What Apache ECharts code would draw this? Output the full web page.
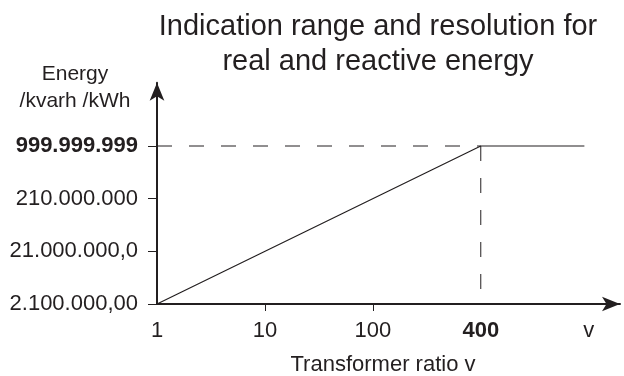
<!DOCTYPE html>
<html>
<head>
<meta charset="utf-8">
<script src="https://cdn.jsdelivr.net/npm/echarts@6/dist/echarts.min.js"></script>
<style>
  html, body { margin: 0; padding: 0; background: #fff; }
  #chart { width: 624px; height: 376px; }
</style>
</head>
<body>
<div id="chart"></div>
<script>
// axis categories, drawn at equal steps (index 0..4)
const xLabels = ['1', '10', '100', '400', 'v'];
const yLabels = ['2.100.000,00', '21.000.000,0', '210.000.000', '999.999.999'];
const boldX = '400';
const boldY = '999.999.999';

// indication line, in axis index units
const rampX = [0, 3, 3.96];
const rampY = [0, 3, 3];

// dashed guides to the 400 / 999.999.999 corner
const guideH = [[0, 3], [3, 3]];
const guideV = [[3, 3], [3, 0]];

const ink = '#231f20';
const font = '"Liberation Sans", Arial, Helvetica, sans-serif';

const chart = echarts.init(document.getElementById('chart'));

const option = {
  animation: false,
  backgroundColor: '#fff',
  title: {
    text: 'Indication range and resolution for\nreal and reactive energy',
    left: 373,
    top: 4,
    textAlign: 'center',
    textStyle: {
      fontFamily: font,
      fontSize: 29,
      fontWeight: 'normal',
      color: ink,
      lineHeight: 35
    }
  },
  grid: {
    left: 157,
    right: 4,
    top: 82.8,
    bottom: 72,
    containLabel: false,
    outerBoundsMode: 'none'
  },
  xAxis: {
    type: 'value',
    min: 0,
    max: 4.29,
    name: 'Transformer ratio v',
    nameLocation: 'middle',
    nameGap: 50,
    nameTextStyle: { fontFamily: font, fontSize: 22, color: ink, padding: [0, 11, 0, 0] },
    splitLine: { show: false },
    axisLine: {
      lineStyle: { color: ink, width: 2 },
      symbol: ['none', 'arrow'],
      symbolSize: [11, 18]
    },
    axisTick: {
      customValues: [1, 2],
      length: 7,
      lineStyle: { color: ink, width: 1 }
    },
    axisLabel: {
      customValues: [0, 1, 2, 3, 4],
      margin: 16,
      fontFamily: font,
      fontSize: 22,
      color: ink,
      formatter: function (v) {
        const s = xLabels[Math.round(v)];
        return s === boldX ? '{b|' + s + '}' : s;
      },
      rich: {
        b: { fontFamily: font, fontSize: 22, fontWeight: 'bold', color: ink }
      }
    }
  },
  yAxis: {
    type: 'value',
    min: 0,
    max: 4.2,
    name: 'Energy\n/kvarh /kWh',
    nameLocation: 'end',
    nameGap: -5,
    nameTextStyle: {
      fontFamily: font,
      fontSize: 21,
      color: ink,
      lineHeight: 27,
      align: 'center',
      verticalAlign: 'middle',
      padding: [0, 164, 0, 0]
    },
    splitLine: { show: false },
    axisLine: {
      lineStyle: { color: ink, width: 2 },
      symbol: ['none', 'arrow'],
      symbolSize: [11, 18]
    },
    axisTick: {
      customValues: [0, 1, 2, 3],
      length: 9,
      lineStyle: { color: ink, width: 1 }
    },
    axisLabel: {
      customValues: [0, 1, 2, 3],
      margin: 19,
      fontFamily: font,
      fontSize: 22,
      color: ink,
      formatter: function (v) {
        const s = yLabels[Math.round(v)];
        return s === boldY ? '{b|' + s + '}' : s;
      },
      rich: {
        b: { fontFamily: font, fontSize: 22, fontWeight: 'bold', color: ink }
      }
    }
  },
  series: [
    {
      type: 'line',
      data: rampX.map((x, i) => [x, rampY[i]]),
      symbol: 'none',
      lineStyle: { color: ink, width: 1.2 },
      silent: true
    },
    {
      type: 'line',
      data: guideH,
      symbol: 'none',
      lineStyle: { color: ink, width: 1, type: [15, 17] },
      silent: true
    },
    {
      type: 'line',
      data: guideV,
      symbol: 'none',
      lineStyle: { color: ink, width: 1, type: [15, 17] },
      silent: true
    }
  ]
};

chart.setOption(option);
</script>
</body>
</html>
